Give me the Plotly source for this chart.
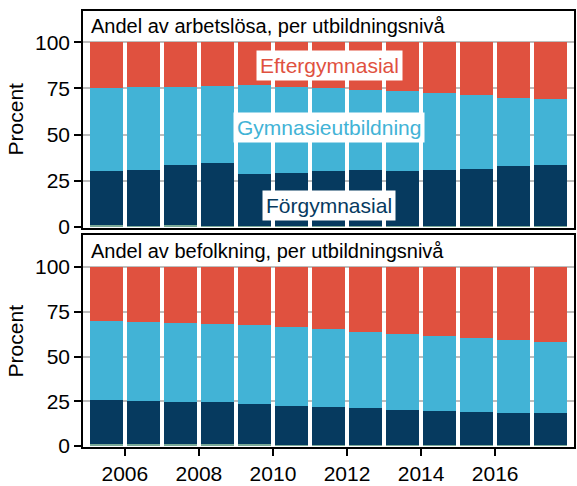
import plotly.graph_objects as go

years = list(range(2005, 2018))

# Andel av arbetslösa (procent, kumulativa gränser)
arb_okand = [1.0, 0.6, 1.0, 0.6, 0.5, 0.5, 0.5, 0.5, 0.5, 0.5, 0.5, 0.5, 0.5]
arb_forg_top = [30.2, 30.8, 33.5, 34.5, 28.8, 29.3, 30.2, 30.8, 30.4, 31.0, 31.3, 32.7, 33.3]
arb_gymn_top = [75.1, 75.9, 75.9, 76.4, 77.1, 76.0, 75.3, 74.1, 73.7, 72.5, 71.4, 69.9, 69.2]

# Andel av befolkning
bef_okand = [1.0, 1.0, 1.0, 1.0, 0.9, 0.8, 0.7, 0.7, 0.6, 0.6, 0.5, 0.5, 0.5]
bef_forg_top = [25.9, 25.4, 24.8, 24.4, 23.5, 22.6, 21.9, 21.3, 20.4, 19.7, 19.1, 18.4, 18.2]
bef_gymn_top = [70.0, 69.3, 68.6, 68.0, 67.5, 66.5, 65.3, 63.8, 62.7, 61.4, 60.3, 59.0, 58.3]

RED = "#E0513F"
LBLUE = "#42B3D6"
NAVY = "#063A5F"
GREEN = "#7BAA98"
FONT = "Liberation Sans, Arial, sans-serif"

fig = go.Figure()
xs = [y + 0.5 for y in years]


def add_panel(okand, forg_top, gymn_top, xa, ya):
    forg = [f - o for f, o in zip(forg_top, okand)]
    gymn = [g - f for g, f in zip(gymn_top, forg_top)]
    efter = [100 - g for g in gymn_top]
    for vals, col in [(okand, GREEN), (forg, NAVY), (gymn, LBLUE), (efter, RED)]:
        fig.add_trace(go.Bar(
            x=xs, y=vals, width=0.9, marker=dict(color=col, line=dict(width=0)),
            xaxis=xa, yaxis=ya, showlegend=False, hoverinfo="none"
        ))


add_panel(arb_okand, arb_forg_top, arb_gymn_top, "x", "y")
add_panel(bef_okand, bef_forg_top, bef_gymn_top, "x2", "y2")

xcommon = dict(range=[2004.87, 2018.13], showgrid=False, zeroline=False,
               showline=True, linecolor="black", linewidth=1.5, mirror=True,
               tickfont=dict(size=21, color="black"))
ycommon = dict(tickvals=[0, 25, 50, 75, 100], showgrid=True, gridcolor="#BDBDBD",
               gridwidth=1.5, zeroline=False, showline=True, linecolor="black",
               linewidth=1.5, mirror=True, ticks="outside", ticklen=7,
               tickcolor="black", tickwidth=1.5,
               tickfont=dict(size=21, color="black"),
               title=dict(text="Procent", font=dict(size=21, color="black"), standoff=6))

fig.update_layout(
    barmode="stack",
    width=577, height=486,
    margin=dict(l=83, r=1, t=11, b=34),
    paper_bgcolor="white", plot_bgcolor="white",
    font=dict(family=FONT, color="black"),
    xaxis=dict(xcommon, domain=[0, 1], anchor="y", showticklabels=False, ticks=""),
    yaxis=dict(ycommon, domain=[0.5034, 1], anchor="x", range=[-0.4, 117]),
    xaxis2=dict(xcommon, domain=[0, 1], anchor="y2", tickvals=[2006, 2008, 2010, 2012, 2014, 2016],
                ticks="outside", ticklen=7, tickcolor="black", tickwidth=1.5),
    yaxis2=dict(ycommon, domain=[0, 0.4853], anchor="x2", range=[-0.55, 117.7]),
)

titles = [("Andel av arbetslösa, per utbildningsnivå", "x domain", "y domain"),
          ("Andel av befolkning, per utbildningsnivå", "x2 domain", "y2 domain")]
for text, xr, yr in titles:
    fig.add_annotation(text=text, xref=xr, yref=yr, x=0.012, y=0.99,
                       xanchor="left", yanchor="top", showarrow=False,
                       font=dict(size=20, color="black"))

labels = [("Eftergymnasial", 87.5, RED), ("Gymnasieutbildning", 53.7, LBLUE),
          ("Förgymnasial", 11.8, NAVY)]
for text, yv, col in labels:
    fig.add_annotation(text=text, x=2011.52, y=yv, xref="x", yref="y",
                       showarrow=False, bgcolor="white", borderpad=3,
                       font=dict(size=21, color=col))

fig.write_html("out.html", config={"displayModeBar": False},
               post_script="document.body.style.margin='0';")
